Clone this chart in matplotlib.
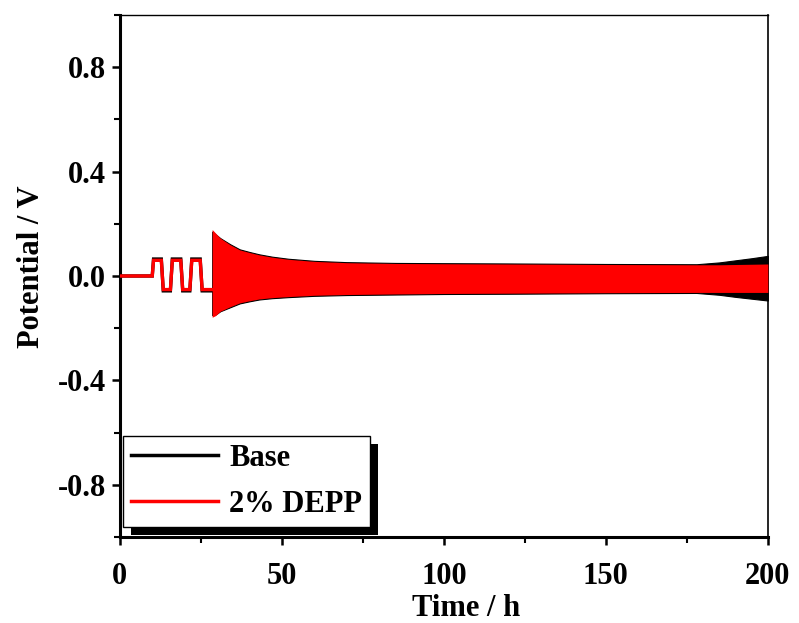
import numpy as np
import matplotlib
matplotlib.use("Agg")
import matplotlib.pyplot as plt
from matplotlib.ticker import FixedLocator
from matplotlib.lines import Line2D
from matplotlib.patches import Rectangle

plt.rcParams['font.family'] = ['Liberation Serif', 'DejaVu Serif']
plt.rcParams['font.weight'] = 'bold'
plt.rcParams['axes.unicode_minus'] = False

# ---- data ----
series_names = ["Base", "2% DEPP"]
series_colors = ["black", "#ff0000"]

# early square-wave part (time / h, potential / V)
step_time = [0, 10.0, 10.4, 12.8, 13.4, 15.6, 16.2, 18.8, 19.4, 21.6, 22.2, 24.8, 25.4, 28.5]
base_step = [0, 0, 0.065, 0.065, -0.057, -0.057, 0.065, 0.065, -0.057, -0.057, 0.065, 0.065, -0.057, -0.057]
depp_step = [0, 0, 0.060, 0.060, -0.052, -0.052, 0.060, 0.060, -0.052, -0.052, 0.060, 0.060, -0.052, -0.052]

# dense cycling region: envelope of the oscillation
env_time = [28.5, 29.5, 31, 34, 37, 40, 43, 47, 52, 60, 70, 85, 100, 120, 150, 178, 185, 190, 195, 200]
depp_upper = [0.178, 0.165, 0.145, 0.120, 0.100, 0.090, 0.081, 0.072, 0.064, 0.056, 0.051, 0.048,
              0.047, 0.046, 0.044, 0.043, 0.043, 0.044, 0.045, 0.046]
depp_lower = [-0.158, -0.152, -0.135, -0.118, -0.103, -0.095, -0.088, -0.083, -0.079, -0.074, -0.071,
              -0.069, -0.067, -0.066, -0.064, -0.063, -0.063, -0.063, -0.063, -0.063]
base_upper = [0.170, 0.160, 0.145, 0.122, 0.102, 0.092, 0.083, 0.074, 0.066, 0.058, 0.053, 0.050,
              0.049, 0.048, 0.046, 0.045, 0.052, 0.060, 0.068, 0.077]
base_lower = [-0.150, -0.148, -0.135, -0.120, -0.105, -0.097, -0.090, -0.085, -0.081, -0.076, -0.073,
              -0.071, -0.069, -0.068, -0.066, -0.065, -0.072, -0.080, -0.087, -0.094]

x_major = [0, 50, 100, 150, 200]
x_minor = [25, 75, 125, 175]
y_major = [-0.8, -0.4, 0.0, 0.4, 0.8]
y_minor = [-1.0, -0.6, -0.2, 0.2, 0.6, 1.0]

# ---- figure ----
fig = plt.figure(figsize=(7.99, 6.23), dpi=100)
ax = fig.add_axes([0.150, 0.138, 0.811, 0.838])

lw = 2.4
# Base (black) underneath
ax.plot(step_time, base_step, color=series_colors[0], lw=lw, solid_joinstyle='miter', zorder=2)
ax.fill_between(env_time, base_lower, base_upper, color=series_colors[0], lw=0.8, zorder=2)
# DEPP (red) on top
ax.plot(step_time, depp_step, color=series_colors[1], lw=lw, solid_joinstyle='miter', zorder=3)
ax.fill_between(env_time, depp_lower, depp_upper, color=series_colors[1], lw=0, zorder=3)

ax.set_xlim(0, 200)
ax.set_ylim(-1.0, 1.0)
ax.xaxis.set_major_locator(FixedLocator(x_major))
ax.xaxis.set_minor_locator(FixedLocator(x_minor))
ax.yaxis.set_major_locator(FixedLocator(y_major))
ax.yaxis.set_minor_locator(FixedLocator(y_minor))
ax.set_xticklabels([str(v) for v in x_major])
ax.set_yticklabels([f"{v:.1f}" for v in y_major])

fs = 22
ax.tick_params(axis='both', which='major', direction='out', length=6, width=1.8,
               labelsize=fs, top=False, right=False)
ax.tick_params(axis='both', which='minor', direction='out', length=4, width=1.5,
               top=False, right=False)
ax.tick_params(axis='x', which='major', pad=12)
ax.tick_params(axis='y', which='major', pad=4)

ax.spines['left'].set_linewidth(2.2)
ax.spines['bottom'].set_linewidth(2.2)
ax.spines['top'].set_linewidth(1.0)
ax.spines['right'].set_linewidth(1.2)

ax.set_xlabel("Time / h", fontsize=fs, fontweight='bold')
ax.set_ylabel("Potential / V", fontsize=fs, fontweight='bold')
ax.xaxis.set_label_coords(0.534, -0.109)
ax.yaxis.set_label_coords(-0.114, 0.517)

handles = [Line2D([], [], color=c, lw=2.5) for c in series_colors]
leg = ax.legend(handles, series_names, loc='lower left', bbox_to_anchor=(0.005, 0.019),
                borderaxespad=0, fontsize=fs, frameon=True, fancybox=False, framealpha=1,
                edgecolor='black', handlelength=2.85, handletextpad=0.35, borderpad=0.27,
                labelspacing=0.55, prop={'weight': 'bold', 'size': fs})
leg.get_frame().set_linewidth(1.0)
leg.set_zorder(5)

# black offset shadow behind the legend frame
fig.canvas.draw()
bb = leg.get_frame().get_window_extent()
inv = ax.transAxes.inverted()
off = 8
(x0, y0) = inv.transform((bb.x0 + off, bb.y0 - off))
(x1, y1) = inv.transform((bb.x1 + off, bb.y1 - off))
ax.add_patch(Rectangle((x0, y0), x1 - x0, y1 - y0, transform=ax.transAxes,
                       facecolor='black', edgecolor='none', clip_on=False, zorder=4.9))

fig.savefig("out.png", dpi=100)
